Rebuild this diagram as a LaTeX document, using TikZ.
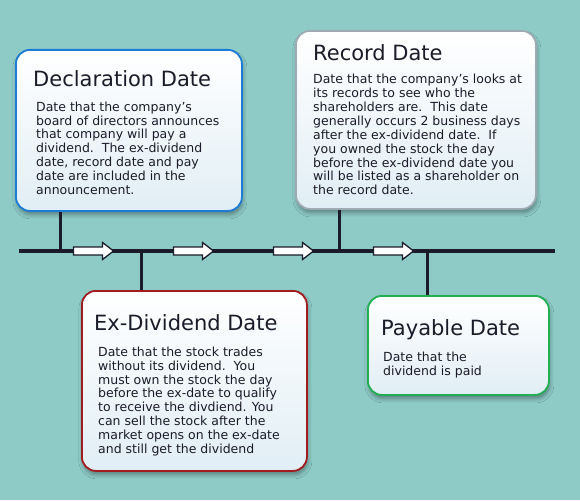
\documentclass[tikz,border=0pt]{standalone}
\usepackage{fontspec}
\setmainfont{DejaVu Sans}
\usepackage{xcolor}
\usepackage{tikz}
\usetikzlibrary{shapes.arrows, positioning, calc, shadows, shadows.blur}
\definecolor{sea}{HTML}{8ECBC7}
\definecolor{ink}{HTML}{1B1B29}
\definecolor{boxfill}{HTML}{E1EEF5}
\definecolor{declblue}{HTML}{1C7CD5}
\definecolor{recgray}{HTML}{9EABB3}
\definecolor{exred}{HTML}{A11B1F}
\definecolor{paygreen}{HTML}{22AE52}

\tikzset{
  datebox/.style={draw=#1, line width=1.8pt, rounded corners=14pt,
    top color=white, bottom color=boxfill, inner sep=0pt, anchor=north west,
    blur shadow={shadow xshift=1pt, shadow yshift=-4pt, shadow blur radius=4pt,
      shadow opacity=35}},
  boxtitle/.style={anchor=base west, inner sep=0pt, text=ink,
    font=\fontsize{21}{25}\selectfont},
  boxtext/.style={anchor=north west, inner sep=0pt, align=left, text=ink,
    font=\fontsize{12.5}{13.9}\selectfont},
  timeline/.style={draw=ink, line width=4pt},
  stem/.style={draw=ink, line width=3pt},
  flow/.style={single arrow, draw=ink, fill=white, line width=1.3pt,
    minimum height=40pt, inner sep=3.3pt, single arrow head extend=4.5pt,
    single arrow tip angle=75}
}

\begin{document}
\begin{tikzpicture}[x=1pt, y=-1pt]
  % Background
  \fill[sea] (0,0) rectangle (580,500);
  \useasboundingbox (0,0) rectangle (580,500);
  % Timeline
  \coordinate (start) at (19,251);
  \coordinate (end) at (555,251);
  \coordinate (tdecl) at (60,251);
  \coordinate (tex) at (141,251);
  \coordinate (trec) at (339,251);
  \coordinate (tpay) at (427,251);
  \draw[timeline] (start) -- (end);
  % Arrows
  \foreach \x [count=\i] in {91,191,291,391}
    \node[flow] (flow\i) at (\x,251) {};
  % Boxes
  \node[datebox=declblue, minimum width=226pt, minimum height=161pt] (decl) at (15,49) {};
  \node[datebox=recgray, minimum width=240pt, minimum height=178pt] (rec) at (295,30) {};
  \node[datebox=exred, minimum width=225pt, minimum height=180pt] (ex) at (81,290) {};
  \node[datebox=paygreen, minimum width=181pt, minimum height=99pt] (pay) at (367,295) {};
  % Stems
  \draw[stem] (tdecl) -- (tdecl |- decl.south);
  \draw[stem] (trec) -- (trec |- rec.south);
  \draw[stem] (tex) -- (tex |- ex.north);
  \draw[stem] (tpay) -- (tpay |- pay.north);
  % Titles
  \node[boxtitle] (decltitle) at ([xshift=18pt, yshift=-38pt]decl.north west) {Declaration Date};
  \node[boxtitle] (rectitle) at ([xshift=18pt, yshift=-31pt]rec.north west) {Record Date};
  \node[boxtitle] (extitle) at ([xshift=13pt, yshift=-40pt]ex.north west) {Ex-Dividend Date};
  \node[boxtitle] (paytitle) at ([xshift=14pt, yshift=-40pt]pay.north west) {Payable Date};
  % Texts
  \node[boxtext] (decltext) at ([xshift=21pt, yshift=-52.5pt]decl.north west)
    {Date that the company's\\ board of directors announces\\ that company will pay a\\
     dividend.\ \ The ex-dividend\\ date, record date and pay\\ date are included in the\\
     announcement.};
  \node[boxtext] (rectext) at ([xshift=18pt, yshift=-44pt]rec.north west)
    {Date that the company's looks at\\ its records to see who the\\
     shareholders are.\ \ This date\\ generally occurs 2 business days\\
     after the ex-dividend date.\ \ If\\ you owned the stock the day\\
     before the ex-dividend date you\\ will be listed as a shareholder on\\
     the record date.};
  \node[boxtext] (extext) at ([xshift=17pt, yshift=-56.5pt]ex.north west)
    {Date that the stock trades\\ without its dividend.\ \ You\\
     must own the stock the day\\ before the ex-date to qualify\\
     to receive the divdiend. You\\ can sell the stock after the\\
     market opens on the ex-date\\ and still get the dividend};
  \node[boxtext] (paytext) at ([xshift=16pt, yshift=-56.5pt]pay.north west)
    {Date that the\\ dividend is paid};
\end{tikzpicture}
\end{document}
